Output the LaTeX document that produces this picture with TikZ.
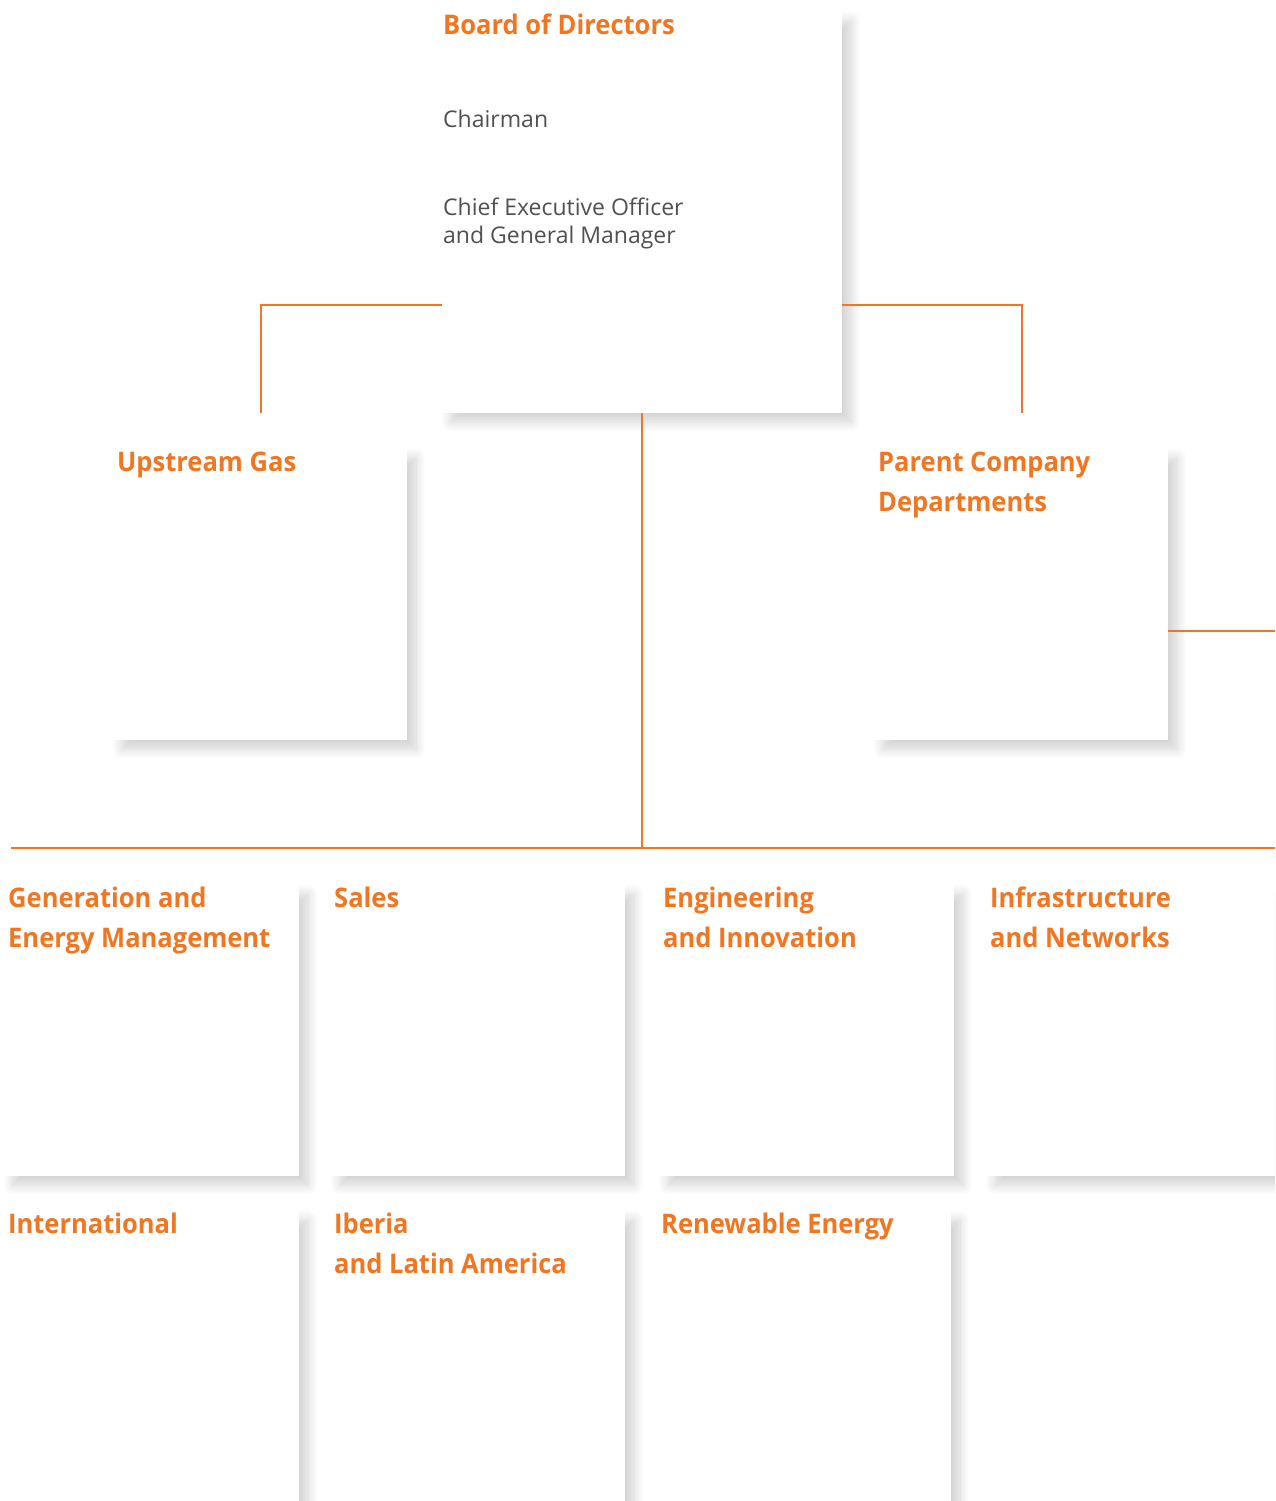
\documentclass[tikz,border=0pt]{standalone}
\usepackage{fontspec}
\setmainfont{Open Sans}
\newfontfamily\ttlfont{Open Sans}[FakeStretch=0.945]
\usetikzlibrary{shadows.blur}
\definecolor{orng}{RGB}{241,118,34}
\definecolor{txtgray}{RGB}{80,80,80}
\begin{document}
\begin{tikzpicture}[x=1pt,y=-1pt,
  unit/.style={draw=none, fill=white, anchor=north west, inner sep=0pt, outer sep=0pt,
    blur shadow={shadow xshift=9pt, shadow yshift=-9pt, shadow blur radius=10pt, shadow opacity=18, shadow blur steps=12}},
  ttl/.style={anchor=base west, inner sep=0pt, text=orng, font=\ttlfont\bfseries\fontsize{27}{40}\selectfont, align=left},
  sub/.style={anchor=base west, inner sep=0pt, text=txtgray, font=\fontsize{23}{28}\selectfont, align=left},
  link/.style={draw=orng, line width=1.2pt}]
\useasboundingbox (0,0) rectangle (1275,1501);
\clip (0,0) rectangle (1275,1501);
% boxes
\node[unit, minimum width=400pt, minimum height=401pt] (board) at (442,12) {};
\node[unit, minimum width=294pt, minimum height=291pt] (upstream) at (113,449) {};
\node[unit, minimum width=294pt, minimum height=291pt] (parent) at (874,449) {};
\node[unit, minimum width=295pt, minimum height=291pt] (gen) at (4,885) {};
\node[unit, minimum width=294pt, minimum height=291pt] (sales) at (331,885) {};
\node[unit, minimum width=295pt, minimum height=291pt] (eng) at (659,885) {};
\node[unit, minimum width=320pt, minimum height=291pt] (infra) at (986,885) {};
\node[unit, minimum width=295pt, minimum height=400pt] (intl) at (4,1211) {};
\node[unit, minimum width=294pt, minimum height=400pt] (iberia) at (331,1211) {};
\node[unit, minimum width=294pt, minimum height=400pt] (renew) at (657,1211) {};
% texts (multi-line nodes are placed at the baseline of their last line)
\node[ttl] (tboard) at (443,35) {Board of Directors};
\node[sub] (tchair) at (443,128) {Chairman};
\node[sub] (tceo) at (443,243) {Chief Executive Officer\\and General Manager};
\node[ttl] (tup) at (117,471) {Upstream Gas};
\node[ttl] (tpar) at (878,511) {Parent Company\\Departments};
\node[ttl] (tgen) at (8,947) {Generation and\\Energy Management};
\node[ttl] (tsales) at (334,907) {Sales};
\node[ttl] (teng) at (663,947) {Engineering\\and Innovation};
\node[ttl] (tinfra) at (990,947) {Infrastructure\\and Networks};
\node[ttl] (tintl) at (8,1233) {International};
\node[ttl] (tiber) at (334,1273) {Iberia\\and Latin America};
\node[ttl] (tren) at (661,1233) {Renewable Energy};
% connectors
\coordinate (upend) at (261,413);
\coordinate (parend) at (1022,413);
\coordinate (busL) at (11,848);
\coordinate (busR) at (1275,848);
\coordinate (parR) at (1275,631);
\draw[link] (board.west |- 0,305) -| (upend);
\draw[link] (board.east |- 0,305) -| (parend);
\draw[link] (board.south -| 642,0) -- (642,848);
\draw[link] (busL) -- (busR);
\draw[link] (parent.east |- parR) -- (parR);
\end{tikzpicture}
\end{document}
